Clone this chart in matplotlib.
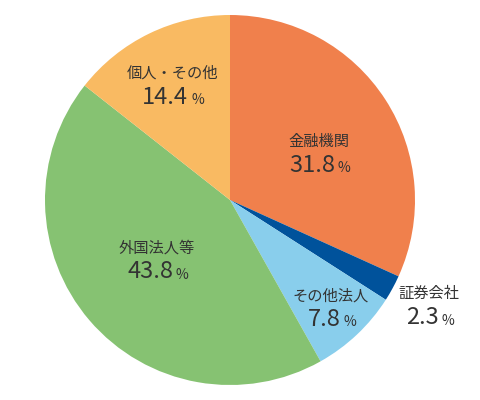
import matplotlib.pyplot as plt

plt.rcParams['font.family'] = ['Noto Sans CJK JP', 'DejaVu Sans']

# data, clockwise from 12 o'clock
labels = ["金融機関", "証券会社", "その他法人", "外国法人等", "個人・その他"]
values = [31.8, 2.3, 7.8, 43.8, 14.4]
colors = ["#F0804C", "#00529B", "#89CEEC", "#86C272", "#F9BA62"]

# label anchor points in pixels (x, y from top): name centre, split between number and %
name_pos = [(319, 141), (429, 293), (331, 296), (157, 248), (172, 73)]
num_pos = [(335, 165), (439, 318), (341, 319), (173, 272), (188, 97)]

fig = plt.figure(figsize=(4.8, 4.0), dpi=100)
ax = fig.add_axes([0, 0, 1, 1])

ax.pie(values, colors=colors, startangle=90, counterclock=False,
       center=(230, 200), radius=185, frame=True,
       wedgeprops=dict(linewidth=0))
ax.set_xlim(0, 480)
ax.set_ylim(0, 400)
ax.set_aspect('equal')
ax.axis('off')

txt = "#333333"
for lab, v, (nx, ny), (px, py) in zip(labels, values, name_pos, num_pos):
    ax.text(nx, 400 - ny, lab, ha='center', va='center', fontsize=11, color=txt)
    ax.text(px, 400 - py, f"{v:.1f}", ha='right', va='center', fontsize=17, color=txt)
    ax.text(px + 3, 400 - py - 3, "%", ha='left', va='center', fontsize=10, color=txt)

fig.savefig("out.png", dpi=100)
